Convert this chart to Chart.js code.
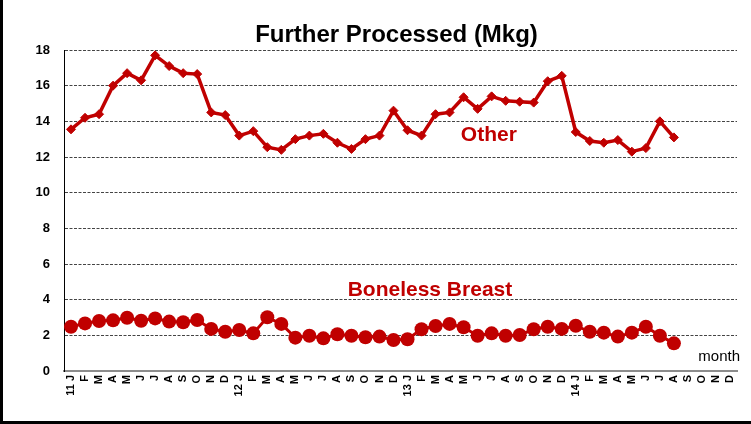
<!DOCTYPE html>
<html>
<head>
<meta charset="utf-8">
<script src="https://cdn.jsdelivr.net/npm/chart.js@4.4.1/dist/chart.umd.min.js"></script>
<style>
  html, body { margin: 0; padding: 0; background: #fff; }
  #wrap { width: 751px; height: 424px; position: relative; }
</style>
</head>
<body>
<div id="wrap"><canvas id="c" width="751" height="424"></canvas></div>
<script>
// ---- data ----
const months = [
  '11 J','F','M','A','M','J','J','A','S','O','N','D',
  '12 J','F','M','A','M','J','J','A','S','O','N','D',
  '13 J','F','M','A','M','J','J','A','S','O','N','D',
  '14 J','F','M','A','M','J','J','A','S','O','N','D'
];
const otherValues = [
  13.55, 14.2, 14.4, 16.0, 16.7, 16.3, 17.7, 17.1, 16.7, 16.65, 14.5, 14.35,
  13.2, 13.45, 12.55, 12.4, 13.0, 13.2, 13.3, 12.8, 12.45, 13.0, 13.2, 14.6,
  13.5, 13.2, 14.4, 14.5, 15.35, 14.7, 15.4, 15.15, 15.1, 15.05, 16.25, 16.55,
  13.4, 12.9, 12.8, 12.95, 12.3, 12.5, 14.0, 13.1
];
const bonelessValues = [
  2.48, 2.67, 2.8, 2.84, 2.99, 2.82, 2.95, 2.77, 2.73, 2.86, 2.36, 2.2,
  2.3, 2.11, 3.01, 2.64, 1.87, 1.98, 1.83, 2.06, 1.98, 1.89, 1.93, 1.74,
  1.78, 2.34, 2.52, 2.64, 2.45, 1.98, 2.11, 1.98, 2.02, 2.34, 2.48, 2.36,
  2.54, 2.2, 2.15, 1.93, 2.15, 2.48, 1.98, 1.55
];
const yTicks = [0, 2, 4, 6, 8, 10, 12, 14, 16, 18];
const titleText = 'Further Processed (Mkg)';
const seriesNames = ['Other', 'Boneless Breast'];
const axisNote = 'month';

const RED = '#C00000';
const FONT = '"Liberation Sans", Arial, sans-serif';

const decor = {
  id: 'decor',
  beforeDraw(chart) {
    const ctx = chart.ctx;
    ctx.save();
    ctx.fillStyle = '#fff';
    ctx.fillRect(0, 0, chart.width, chart.height);
    ctx.restore();
  },
  afterDraw(chart) {
    const ctx = chart.ctx;
    const a = chart.chartArea;
    const xs = chart.scales.x, ys = chart.scales.y;
    ctx.save();
    // frame
    ctx.fillStyle = '#000';
    ctx.fillRect(0, 0, 3, chart.height);
    ctx.fillRect(0, chart.height - 3, chart.width, 3);
    // title
    ctx.fillStyle = '#000';
    ctx.font = 'bold 24px ' + FONT;
    ctx.textAlign = 'center';
    ctx.textBaseline = 'alphabetic';
    ctx.fillText(titleText, (a.left + a.right) / 2 - 4, 42);
    // series labels
    ctx.fillStyle = RED;
    ctx.font = 'bold 21px ' + FONT;
    ctx.textBaseline = 'middle';
    ctx.fillText(seriesNames[0], xs.getPixelForValue(29.8), ys.getPixelForValue(13.24));
    ctx.fillText(seriesNames[1], xs.getPixelForValue(25.6), ys.getPixelForValue(4.54));
    // month note
    ctx.fillStyle = '#000';
    ctx.font = '15px ' + FONT;
    ctx.textAlign = 'right';
    ctx.fillText(axisNote, a.right + 3, ys.getPixelForValue(0.78));
    ctx.restore();
  }
};

new Chart(document.getElementById('c'), {
  type: 'line',
  data: {
    labels: months,
    datasets: [
      {
        label: seriesNames[0],
        data: otherValues,
        borderColor: RED,
        backgroundColor: RED,
        borderWidth: 3.5,
        pointStyle: 'rectRot',
        pointRadius: 4.5,
        pointBorderWidth: 1,
        tension: 0
      },
      {
        label: seriesNames[1],
        data: bonelessValues,
        borderColor: RED,
        backgroundColor: RED,
        borderWidth: 3,
        pointStyle: 'circle',
        pointRadius: 7,
        pointBorderWidth: 0,
        tension: 0
      }
    ]
  },
  options: {
    responsive: false,
    animation: false,
    devicePixelRatio: 1,
    layout: { padding: { left: 0, right: 14, top: 50, bottom: 0 } },
    plugins: {
      legend: { display: false },
      title: { display: false },
      tooltip: { enabled: false }
    },
    scales: {
      x: {
        type: 'category',
        offset: true,
        grid: { display: false, drawTicks: false },
        border: { display: true, color: '#8c8c8c', width: 2 },
        ticks: {
          autoSkip: false,
          minRotation: 90,
          maxRotation: 90,
          padding: 4,
          color: '#000',
          font: { family: FONT, size: 11, weight: 'bold' }
        },
        afterFit(scale) { scale.height = 53; }
      },
      y: {
        min: 0,
        max: 18,
        afterBuildTicks(scale) { scale.ticks = yTicks.map(v => ({ value: v })); },
        grid: {
          drawTicks: false,
          color: ctx => (ctx.tick && ctx.tick.value === 0) ? 'rgba(0,0,0,0)' : '#444',
          lineWidth: 1
        },
        border: { display: true, color: '#000', width: 1, dash: [3, 1.5] },
        ticks: {
          padding: 14,
          color: '#000',
          font: { family: FONT, size: 13, weight: 'bold' }
        },
        afterFit(scale) { scale.width = 64; }
      }
    }
  },
  plugins: [decor]
});
</script>
</body>
</html>
